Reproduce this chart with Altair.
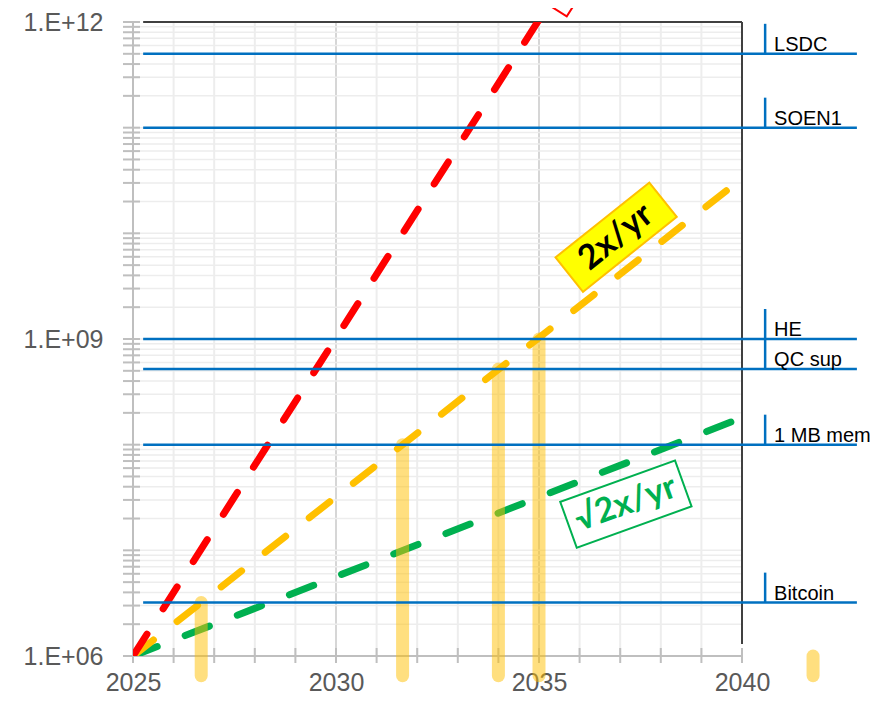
import altair as alt
import pandas as pd

# ---------------- data ----------------
tick_years = list(range(2025, 2041))
label_years = [2025, 2030, 2035, 2040]
major_grid_years = [2030, 2035]
y_label_values = [1e6, 1e9, 1e12]
y_tick_values = [m * 10 ** e for e in range(6, 12) for m in range(1, 10)] + [1e12]

trend_names = ["√2x/yr", "2x/yr", "4x/yr"]
trend_colors = ["#00B050", "#FFC000", "#FF0000"]
trend_start_year = [2025, 2025, 2025]
trend_end_year = [2040, 2040, 2035]
trend_start_value = [1e6, 1e6, 1e6]
trend_end_value = [1.8e8, 3.3e10, 1.05e12]

req_names = ["LSDC", "SOEN1", "HE", "QC sup", "1 MB mem", "Bitcoin"]
req_values = [5e11, 1e11, 1e9, 5.2e8, 1e8, 3.2e6]

bar_years = [2026.68, 2031.64, 2034.0, 2035.0, 2041.75]
bar_tops = [3.2e6, 1e8, 5.2e8, 1e9, 1e6]
bar_bottoms = [6.5e5, 6.5e5, 6.5e5, 6.5e5, 6.5e5]

# annotation boxes (centre in data units)
ann_text = ["2x/yr", "√2x/yr", "4x/yr"]
ann_year = [2036.9, 2037.14, 2036.02]
ann_value = [9.2e9, 2.74e7, 4.4e12]

# ---------------- scales / axes ----------------
xs = alt.Scale(domain=[2025, 2040], nice=False, zero=False)
ys = alt.Scale(type="log", domain=[1e6, 1e12], nice=False)
xaxis = alt.Axis(values=label_years, format="d", title=None, grid=False, ticks=False,
                 domain=False, labelFont="Liberation Sans", labelFontSize=25, labelColor="#595959",
                 labelBaseline="alphabetic", labelPadding=34, labelFlush=False)
yaxis = alt.Axis(values=y_label_values, title=None, grid=False, ticks=False, domain=False,
                 labelExpr="'1.E+' + format(round(log(datum.value)/LN10), '02d')",
                 labelFont="Liberation Sans", labelFontSize=25, labelColor="#595959",
                 labelPadding=30, labelFlush=False)


def X(f="x"):
    return alt.X(f, type="quantitative", scale=xs, axis=xaxis)


def Y(f="y"):
    return alt.Y(f, type="quantitative", scale=ys, axis=yaxis)


layers = []

# vertical gridlines
vg = pd.DataFrame({
    "x": tick_years[1:-1],
    "y": [1e6] * (len(tick_years) - 2),
    "y2": [1e12] * (len(tick_years) - 2),
    "c": ["#D6D6D6" if yv in major_grid_years else "#EDEDED" for yv in tick_years[1:-1]],
})
layers.append(alt.Chart(vg).mark_rule(strokeWidth=2).encode(
    x=X(), y=Y(), y2="y2:Q", color=alt.Color("c:N", scale=None)))

# horizontal gridlines
hv = [v for v in y_tick_values if 1e6 < v < 1e12]
hg = pd.DataFrame({"y": hv, "x": [2025] * len(hv), "x2": [2040] * len(hv)})
layers.append(alt.Chart(hg).mark_rule(strokeWidth=1.5, color="#EDEDED").encode(
    x=X(), x2="x2:Q", y=Y()))

# y ticks (crossing the axis)
yt = pd.DataFrame({"y": y_tick_values, "x": [2025] * len(y_tick_values), "x2": [2025] * len(y_tick_values)})
layers.append(alt.Chart(yt).mark_rule(strokeWidth=2, color="#BFBFBF", xOffset=-10, x2Offset=7).encode(
    x=X(), x2="x2:Q", y=Y()))

# x ticks
xt = pd.DataFrame({"x": tick_years, "y": [1e6] * len(tick_years), "y2": [1e6] * len(tick_years)})
layers.append(alt.Chart(xt).mark_rule(strokeWidth=2, color="#BFBFBF", yOffset=-8, y2Offset=7).encode(
    x=X(), y=Y(), y2="y2:Q"))

# axis lines
ax = pd.DataFrame({"x": [2025, 2025], "x2": [2025, 2040], "y": [1e6, 1e6], "y2": [1e12, 1e6]})
layers.append(alt.Chart(ax).mark_rule(strokeWidth=2, color="#BFBFBF").encode(
    x=X(), x2="x2:Q", y=Y(), y2="y2:Q"))

# plot border (top and right)
bd = pd.DataFrame({"x": [2025.25, 2040], "x2": [2040, 2040], "y": [1e12, 1.3e6], "y2": [1e12, 1e12]})
layers.append(alt.Chart(bd).mark_rule(strokeWidth=2, color="#404040").encode(
    x=X(), x2="x2:Q", y=Y(), y2="y2:Q"))

# dashed trend lines
rows = []
for n, c, y0, y1, v0, v1 in zip(trend_names, trend_colors, trend_start_year, trend_end_year,
                                trend_start_value, trend_end_value):
    rows.append({"s": n, "c": c, "x": y0, "y": v0})
    rows.append({"s": n, "c": c, "x": y1, "y": v1})
tr = pd.DataFrame(rows)
layers.append(alt.Chart(tr).mark_line(strokeWidth=7, strokeDash=[26, 30], strokeCap="round", clip=True).encode(
    x=X(), y=Y(), detail="s:N", color=alt.Color("c:N", scale=None), order=alt.Order("x:Q")))

# translucent bars
br = pd.DataFrame({"x": bar_years, "y": bar_tops, "y2": bar_bottoms})
layers.append(alt.Chart(br).mark_rule(strokeWidth=13, strokeCap="round", color="#FFC000", opacity=0.5).encode(
    x=X(), y=Y(), y2="y2:Q"))

# requirement lines
rq = pd.DataFrame({"name": req_names, "y": req_values,
                   "x": [2025.25] * len(req_values), "x2": [2042.83] * len(req_values),
                   "tx": [2040.57] * len(req_values), "lx": [2040.79] * len(req_values)})
layers.append(alt.Chart(rq).mark_rule(strokeWidth=2.5, color="#0070C0").encode(
    x=X(), x2="x2:Q", y=Y()))
layers.append(alt.Chart(rq).mark_rule(strokeWidth=2.5, color="#0070C0", y2Offset=-30).encode(
    x=X("tx"), y=Y(), y2="y:Q"))
layers.append(alt.Chart(rq).mark_text(align="left", baseline="alphabetic", dy=-3,
                                      font="Liberation Sans Narrow, Arial Narrow, Liberation Sans",
                                      fontSize=20, color="black").encode(
    x=X("lx"), y=Y(), text="name:N"))

# annotation boxes
a1 = pd.DataFrame({"x": [ann_year[0]], "y": [ann_value[0]], "t": [ann_text[0]]})
layers.append(alt.Chart(a1).mark_point(shape="M-1,-0.3667L1,-0.3667L1,0.3667L-1,0.3667Z", size=14400,
                                       angle=321.4, filled=True, fill="#FFFF00", stroke="#FFC000",
                                       strokeWidth=2, opacity=1).encode(x=X(), y=Y()))
layers.append(alt.Chart(a1).mark_text(angle=321.4, font="Lato", fontWeight="bold", fontSize=34,
                                      color="black").encode(x=X(), y=Y(), text="t:N"))

a2 = pd.DataFrame({"x": [ann_year[1]], "y": [ann_value[1]], "t": [ann_text[1]]})
layers.append(alt.Chart(a2).mark_point(shape="M-1,-0.4L1,-0.4L1,0.4L-1,0.4Z", size=14884,
                                       angle=340.2, filled=True, fill="white", stroke="#00B050",
                                       strokeWidth=2, opacity=1).encode(x=X(), y=Y()))
layers.append(alt.Chart(a2).mark_text(angle=340.2, font="Lato", fontWeight="bold", fontSize=34,
                                      color="#00B050").encode(x=X(), y=Y(), text="t:N"))

a3 = pd.DataFrame({"x": [ann_year[2]], "y": [ann_value[2]], "t": [ann_text[2]]})
layers.append(alt.Chart(a3).mark_point(shape="M-1,-0.3667L1,-0.3667L1,0.3667L-1,0.3667Z", size=14400,
                                       angle=302.5, filled=True, fill="white", stroke="#FF0000",
                                       strokeWidth=2, opacity=1).encode(x=X(), y=Y()))

chart = alt.layer(*layers).properties(
    width=609, height=634,
    autosize=alt.AutoSizeParams(type="none"),
    padding={"left": 125, "top": 14, "right": 131, "bottom": 40},
    background="white",
).configure_view(stroke=None)

chart.save("out.html", embed_options={"renderer": "svg", "actions": False})
